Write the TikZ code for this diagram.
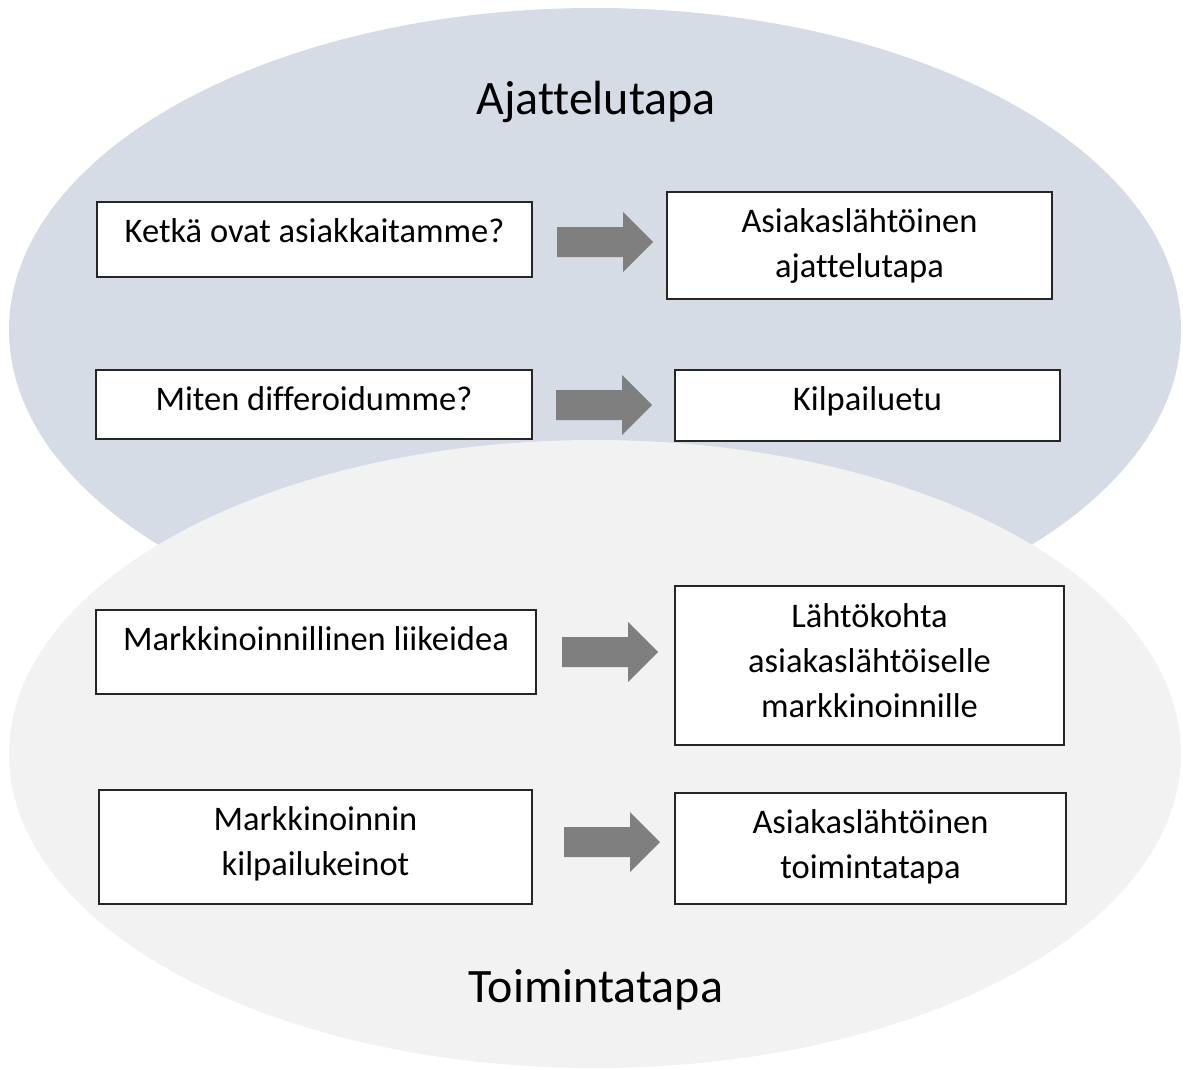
\documentclass[tikz,border=0pt]{standalone}
\usepackage{fontspec}
\setmainfont{Carlito}[Ligatures=NoCommon]
\usetikzlibrary{calc}
\definecolor{thinkfill}{HTML}{D6DCE5}
\definecolor{actfill}{HTML}{F2F2F2}
\definecolor{arrowgray}{HTML}{7F7F7F}
\definecolor{boxline}{HTML}{262626}
% wide grey arrow: 66 long shaft, 30 thick, head 60 wide and 30 long
\newcommand\blockarrowfrom[1]{%
  \fill[arrowgray] (#1) ++(0,-15) -- ++(66,0) -- ++(0,-15) -- ++(30,30)
    -- ++(-30,30) -- ++(0,-15) -- ++(-66,0) -- cycle;}
\begin{document}
\begin{tikzpicture}[x=1pt,y=-1pt,
  box/.style={draw=boxline, line width=1.6pt, fill=white, inner sep=0pt, outer sep=0pt},
  txt/.style={inner sep=0pt, align=center, anchor=base, text=black,
              font=\fontsize{34.5}{45}\selectfont},
  heading/.style={inner sep=0pt, anchor=base, text=black,
              font=\fontsize{48}{56}\selectfont}]
\useasboundingbox (0,0) rectangle (1183,1070);

% the two overlapping areas
\fill[thinkfill] (595,330) ellipse [x radius=586pt, y radius=322pt];
\fill[actfill]   (595,754) ellipse [x radius=586pt, y radius=314pt];

\node[heading] (ajattelu) at (596,115) {Ajattelutapa};
\node[heading] (toiminta) at (596,1002) {Toimintatapa};

% boxes
\node[box, minimum width=435pt, minimum height=75pt]  (b1) at (314.5,239.5) {};
\node[box, minimum width=385pt, minimum height=107pt] (b2) at (859.5,245.5) {};
\node[box, minimum width=436pt, minimum height=69pt]  (b3) at (314,404.5) {};
\node[box, minimum width=385pt, minimum height=71pt]  (b4) at (867.5,405.5) {};
\node[box, minimum width=440pt, minimum height=84pt]  (b5) at (316,652) {};
\node[box, minimum width=389pt, minimum height=159pt] (b6) at (869.5,665.5) {};
\node[box, minimum width=433pt, minimum height=114pt] (b7) at (315.5,847) {};
\node[box, minimum width=391pt, minimum height=111pt] (b8) at (870.5,848.5) {};

% box texts: first baseline 40 below the top edge, lines 45 apart
% (the base anchor sits on the last line)
\node[txt] (t1) at ($(b1.north)+(0,40)$)  {Ketkä ovat asiakkaitamme?};
\node[txt] (t2) at ($(b2.north)+(0,85)$)  {Asiakaslähtöinen\\ajattelutapa};
\node[txt] (t3) at ($(b3.north)+(0,40)$)  {Miten differoidumme?};
\node[txt] (t4) at ($(b4.north)+(0,40)$)  {Kilpailuetu};
\node[txt] (t5) at ($(b5.north)+(0,40)$)  {Markkinoinnillinen liikeidea};
\node[txt] (t6) at ($(b6.north)+(0,131)$) {Lähtökohta\\asiakaslähtöiselle\\markkinoinnille};
\node[txt] (t7) at ($(b7.north)+(0,85)$)  {Markkinoinnin\\kilpailukeinot};
\node[txt] (t8) at ($(b8.north)+(0,85)$)  {Asiakaslähtöinen\\toimintatapa};

% block arrows between the boxes (tail points)
\coordinate (a1) at ($(b1.east)+(25,2.5)$);
\coordinate (a2) at ($(b3.east)+(24,0.5)$);
\coordinate (a3) at ($(b5.east)+(26,0)$);
\coordinate (a4) at ($(b7.east)+(32,-5)$);
\blockarrowfrom{a1}
\blockarrowfrom{a2}
\blockarrowfrom{a3}
\blockarrowfrom{a4}
\end{tikzpicture}
\end{document}
